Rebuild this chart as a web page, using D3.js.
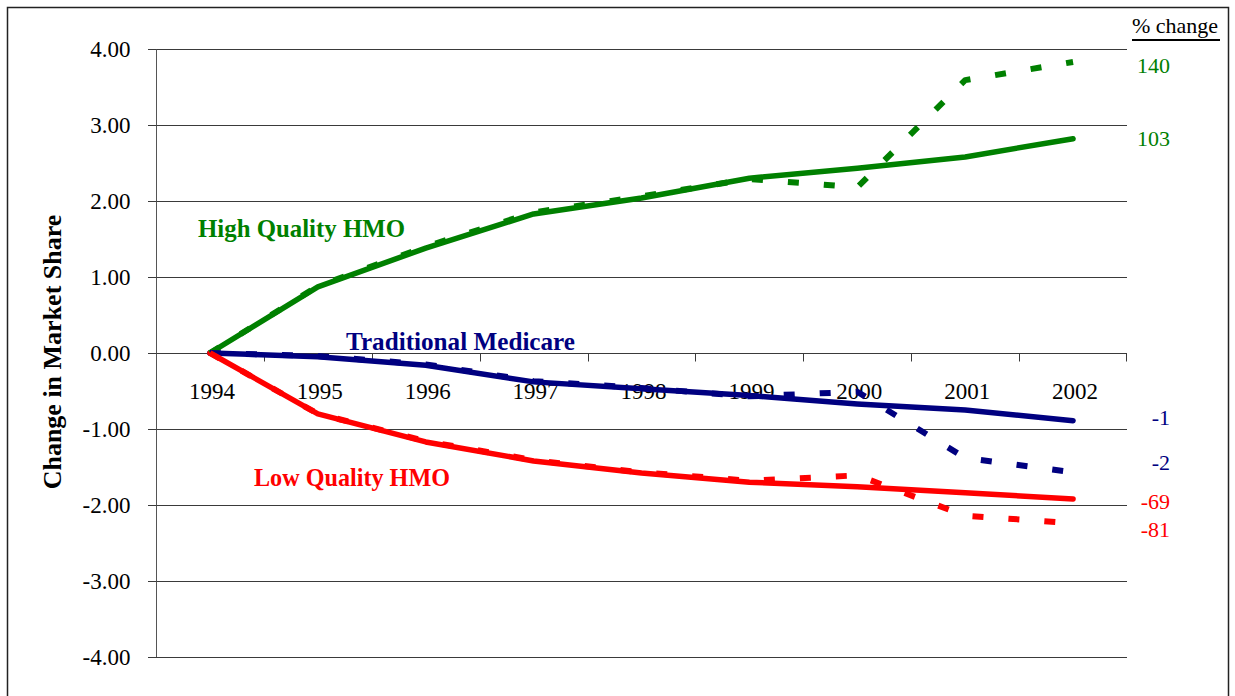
<!DOCTYPE html>
<html>
<head>
<meta charset="utf-8">
<script src="https://cdn.jsdelivr.net/npm/d3@7"></script>
<style>
  body { margin: 0; background: #fff; }
  svg text { font-family: "Liberation Serif", "Times New Roman", serif; }
</style>
</head>
<body>
<div id="chart"></div>
<script>
// market share change data
var years = [1994, 1995, 1996, 1997, 1998, 1999, 2000, 2001, 2002];
var highSolid  = [0, 0.87, 1.38, 1.83, 2.04, 2.30, 2.43, 2.58, 2.82];
var highDashed = [0, 0.88, 1.40, 1.85, 2.06, 2.29, 2.18, 3.59, 3.83];
var tradSolid  = [0, -0.05, -0.16, -0.38, -0.47, -0.56, -0.67, -0.75, -0.89];
var tradDashed = [0, -0.04, -0.15, -0.37, -0.46, -0.57, -0.51, -1.38, -1.57];
var lowSolid   = [0, -0.80, -1.17, -1.42, -1.58, -1.70, -1.76, -1.84, -1.92];
var lowDashed  = [0, -0.80, -1.16, -1.41, -1.57, -1.68, -1.61, -2.14, -2.24];
var yTicks = [-4, -3, -2, -1, 0, 1, 2, 3, 4];
var seriesNames = ["High Quality HMO", "Traditional Medicare", "Low Quality HMO"];
var pctLabels = ["140", "103", "-1", "-2", "-69", "-81"];

var width = 1235, height = 696;
var green = "#008000", navy = "#000080", red = "#ff0000";
var serif = "'Liberation Serif', 'Times New Roman', serif";

var svg = d3.select("#chart").append("svg")
	.attr("width", width)
	.attr("height", height);

svg.append("rect").attr("width", width).attr("height", height).attr("fill", "#fff");
svg.append("rect")
	.attr("x", 7.5).attr("y", 7.5)
	.attr("width", 1221).attr("height", 720)
	.attr("fill", "none").attr("stroke", "#222").attr("stroke-width", 1.5);

var x = d3.scaleBand().domain(years).range([156, 1127]);
var y = d3.scaleLinear().domain([-4, 4]).range([657, 49]);
var cx = d => x(d) + x.bandwidth() / 2;

// gridlines
svg.append("g").selectAll("line")
	.data(yTicks)
	.enter().append("line")
	.attr("x1", 148).attr("x2", 1127)
	.attr("y1", d => Math.round(y(d)) + 0.5)
	.attr("y2", d => Math.round(y(d)) + 0.5)
	.attr("stroke", "#3a3a3a").attr("stroke-width", 1);

// y axis
var yAxis = svg.append("g")
	.attr("transform", "translate(156.5,0)")
	.call(d3.axisLeft(y).tickValues(yTicks).tickSize(8).tickPadding(18));
yAxis.attr("font-family", null);
yAxis.select(".domain").attr("stroke", "#555").attr("d", "M0," + y(4) + "V" + y(-4));
yAxis.selectAll(".tick line").attr("stroke", "#3a3a3a");
yAxis.selectAll("text")
	.attr("font-size", 23).attr("fill", "#000")
	.text(d => d3.format(".2f")(d).replace("−", "-"));

// x axis ticks at category boundaries, crossing at zero
var xAxis = svg.append("g")
	.attr("transform", "translate(0," + (Math.round(y(0)) + 0.5) + ")");
xAxis.selectAll("line")
	.data(years.slice(1).concat(["end"]))
	.enter().append("line")
	.attr("x1", d => d === "end" ? 1126.5 : Math.round(x(d)) + 0.5)
	.attr("x2", d => d === "end" ? 1126.5 : Math.round(x(d)) + 0.5)
	.attr("y1", 0).attr("y2", 8)
	.attr("stroke", "#3a3a3a");
xAxis.selectAll("text")
	.data(years)
	.enter().append("text")
	.attr("x", d => cx(d) + 2)
	.attr("y", 45)
	.attr("text-anchor", "middle")
	.attr("font-size", 23)
	.text(d => d);

// y title
svg.append("text")
	.attr("transform", "translate(61,352) rotate(-90)")
	.attr("text-anchor", "middle")
	.attr("font-size", 26)
	.attr("font-weight", "bold")
	.text("Change in Market Share");

var line = d3.line()
	.x((d, i) => cx(years[i]))
	.y(d => y(d));

var series = [
	{ vals: highSolid, color: green, dashed: false },
	{ vals: tradSolid, color: navy, dashed: false },
	{ vals: lowSolid, color: red, dashed: false },
	{ vals: highDashed, color: green, dashed: true },
	{ vals: tradDashed, color: navy, dashed: true },
	{ vals: lowDashed, color: red, dashed: true }
];

svg.append("g").selectAll("path")
	.data(series)
	.enter().append("path")
	.attr("d", d => line(d.vals))
	.attr("fill", "none")
	.attr("stroke", d => d.color)
	.attr("stroke-width", d => d.dashed ? 6 : 5.5)
	.attr("stroke-linecap", d => d.dashed ? "butt" : "round")
	.attr("stroke-linejoin", "round")
	.attr("stroke-dasharray", d => d.dashed ? "11,25" : null);

// series labels
var nameLayout = [
	{ x: 198, y: 237, color: green },
	{ x: 346, y: 350, color: navy },
	{ x: 254, y: 486, color: red }
];
svg.append("g").selectAll("text")
	.data(seriesNames)
	.enter().append("text")
	.attr("x", (d, i) => nameLayout[i].x)
	.attr("y", (d, i) => nameLayout[i].y)
	.attr("fill", (d, i) => nameLayout[i].color)
	.attr("font-size", 25)
	.attr("font-weight", "bold")
	.attr("textLength", (d, i) => [207, 229, 196][i])
	.attr("lengthAdjust", "spacingAndGlyphs")
	.text(d => d);

// % change column
svg.append("text")
	.attr("x", 1132).attr("y", 33)
	.attr("font-size", 22)
	.text("% change");
svg.append("line")
	.attr("x1", 1132).attr("x2", 1220)
	.attr("y1", 40).attr("y2", 40)
	.attr("stroke", "#000").attr("stroke-width", 2);

var pctEnds = [highDashed, highSolid, tradSolid, tradDashed, lowSolid, lowDashed];
var pctColors = [green, green, navy, navy, red, red];
var pctDy = [11, 7, 4, -2, 10, 14];
svg.append("g").selectAll("text")
	.data(pctLabels)
	.enter().append("text")
	.attr("x", 1170)
	.attr("y", (d, i) => y(pctEnds[i][pctEnds[i].length - 1]) + pctDy[i])
	.attr("text-anchor", "end")
	.attr("fill", (d, i) => pctColors[i])
	.attr("font-size", 22)
	.text(d => d);

svg.selectAll("text").style("font-family", serif);
</script>
</body>
</html>
